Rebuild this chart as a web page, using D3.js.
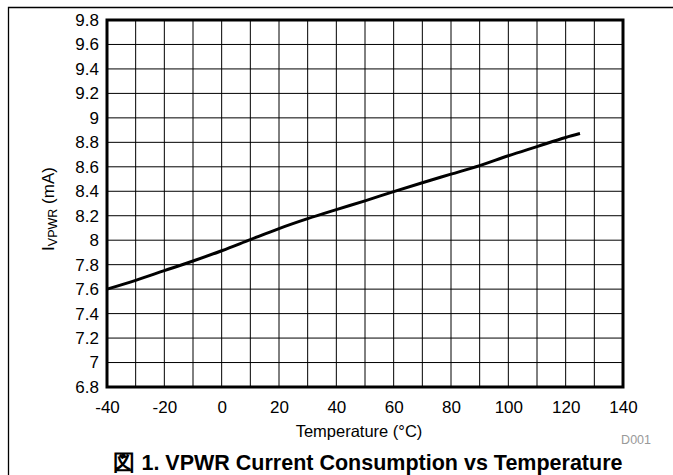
<!DOCTYPE html>
<html>
<head>
<meta charset="utf-8">
<script src="https://cdn.jsdelivr.net/npm/d3@7"></script>
<style>
  html, body { margin: 0; padding: 0; background: #fff; }
  svg { display: block; font-family: "Liberation Sans", Arial, Helvetica, sans-serif; }
</style>
</head>
<body>
<svg id="chart" width="673" height="475"></svg>
<script>
// ---- data ----
const temperature = [-40, -30, -20, -10, 0, 10, 20, 30, 40, 50, 60, 70, 80, 90, 100, 110, 120, 125];
const currentMA   = [7.6, 7.672, 7.751, 7.83, 7.914, 8.005, 8.095, 8.176, 8.25, 8.322, 8.397, 8.47, 8.54, 8.61, 8.69, 8.765, 8.84, 8.872];
const xTickLabels = ["-40", "-20", "0", "20", "40", "60", "80", "100", "120", "140"];
const yTickLabels = ["6.8", "7", "7.2", "7.4", "7.6", "7.8", "8", "8.2", "8.4", "8.6", "8.8", "9", "9.2", "9.4", "9.6", "9.8"];
const xGridValues = d3.range(-40, 141, 10);
const titleText = "図 1. VPWR Current Consumption vs Temperature";
const xLabelText = "Temperature (°C)";
const noteText = "D001";

// ---- layout ----
const svg = d3.select("#chart");
const plot = { left: 107, top: 20, right: 623, bottom: 387 };

const x = d3.scaleLinear().domain([-40, 140]).range([plot.left, plot.right]);
const y = d3.scaleLinear().domain([6.8, 9.8]).range([plot.bottom, plot.top]);

// outer frame (left + top visible)
svg.append("path")
  .attr("d", "M8.5,475 L8.5,7.5 L673,7.5")
  .attr("fill", "none").attr("stroke", "#000").attr("stroke-width", 1.3);

// grid
const grid = svg.append("g");
grid.selectAll("line.v").data(xGridValues).join("line")
  .attr("x1", d => x(d)).attr("x2", d => x(d))
  .attr("y1", plot.top).attr("y2", plot.bottom)
  .attr("stroke", "#000").attr("stroke-width", 1);
grid.selectAll("line.h").data(yTickLabels.map(Number)).join("line")
  .attr("y1", d => y(d)).attr("y2", d => y(d))
  .attr("x1", plot.left).attr("x2", plot.right)
  .attr("stroke", "#000").attr("stroke-width", 1);

// axes (labels via d3 axes)
const xAxis = d3.axisBottom(x)
  .tickValues(xTickLabels.map(Number))
  .tickFormat((d, i) => xTickLabels[i])
  .tickSize(0).tickPadding(14);
svg.append("g").attr("transform", `translate(0,${plot.bottom})`).call(xAxis)
  .call(g => g.select(".domain").remove())
  .selectAll("text").attr("font-size", 17).attr("fill", "#000")
  .attr("font-family", "'Liberation Sans', Arial, sans-serif");

const yAxis = d3.axisLeft(y)
  .tickValues(yTickLabels.map(Number))
  .tickFormat((d, i) => yTickLabels[i])
  .tickSize(0).tickPadding(8);
svg.append("g").attr("transform", `translate(${plot.left},0)`).call(yAxis)
  .call(g => g.select(".domain").remove())
  .selectAll("text").attr("font-size", 17).attr("fill", "#000")
  .attr("font-family", "'Liberation Sans', Arial, sans-serif");

// plot border
svg.append("rect")
  .attr("x", plot.left).attr("y", plot.top)
  .attr("width", plot.right - plot.left).attr("height", plot.bottom - plot.top)
  .attr("fill", "none").attr("stroke", "#000").attr("stroke-width", 3);

// data line
const line = d3.line()
  .x((d, i) => x(temperature[i]))
  .y(d => y(d))
  .curve(d3.curveMonotoneX);
svg.append("path")
  .datum(currentMA)
  .attr("d", line)
  .attr("fill", "none").attr("stroke", "#000").attr("stroke-width", 3);

// x axis label
svg.append("text")
  .attr("x", (plot.left + plot.right) / 2 - 6).attr("y", 437)
  .attr("text-anchor", "middle").attr("font-size", 16.5)
  .text(xLabelText);

// y axis label
const yl = svg.append("text")
  .attr("transform", `translate(54,209) rotate(-90)`)
  .attr("text-anchor", "middle").attr("font-size", 17);
yl.append("tspan").text("I");
yl.append("tspan").attr("font-size", 12.5).attr("dy", 3).text("VPWR");
yl.append("tspan").attr("dy", -3).text(" (mA)");

// note
svg.append("text")
  .attr("x", 651).attr("y", 444)
  .attr("text-anchor", "end").attr("font-size", 12.5).attr("fill", "#999")
  .text(noteText);

// title
svg.append("text")
  .attr("x", 368).attr("y", 470)
  .attr("text-anchor", "middle").attr("font-size", 21.5).attr("font-weight", "bold")
  .text(titleText);
</script>
</body>
</html>
